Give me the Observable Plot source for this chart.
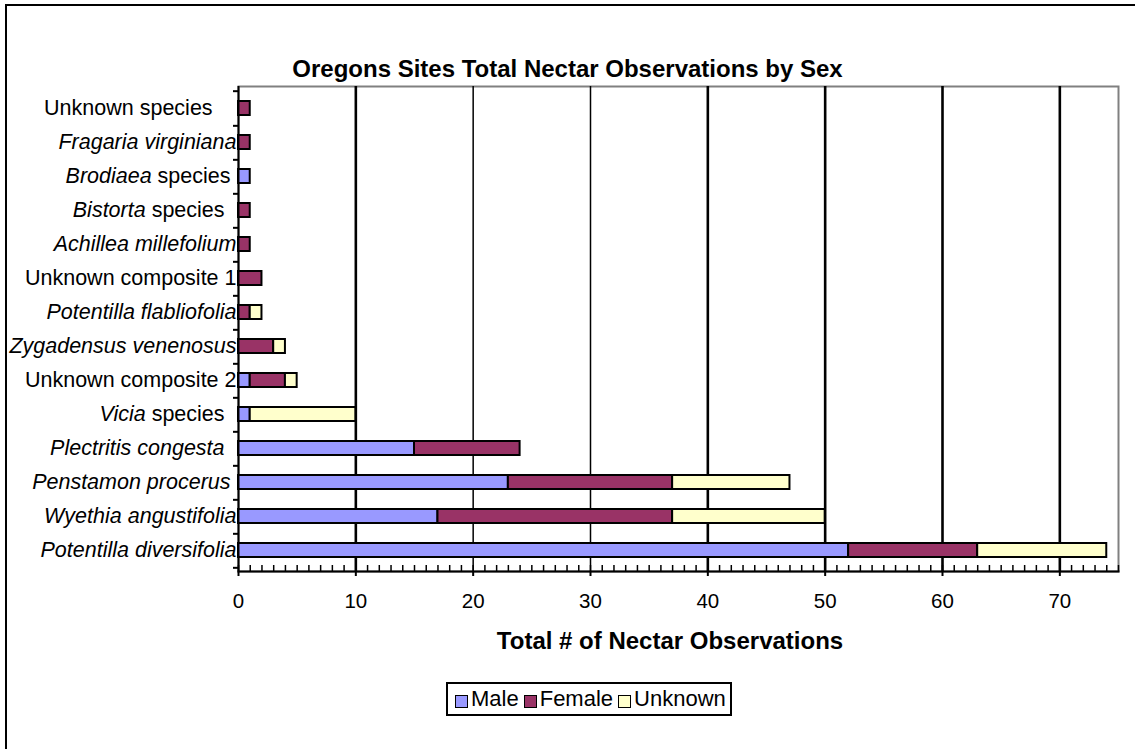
<!DOCTYPE html>
<html><head><meta charset="utf-8">
<script src="https://cdn.jsdelivr.net/npm/d3@7"></script>
<script src="https://cdn.jsdelivr.net/npm/@observablehq/plot@0.6"></script>
<style>
body{margin:0;background:#fff;font-family:"Liberation Sans",Arial,sans-serif;}
#wrap{position:relative;width:1135px;height:749px;overflow:hidden;background:#fff;}
#frame{position:absolute;left:5px;top:4px;width:1140px;height:770px;border:2px solid #000;}
#chart{position:absolute;left:0;top:0;}
#title{position:absolute;left:0;width:1135px;top:55px;text-align:center;font-weight:bold;font-size:24px;line-height:28px;color:#000;}
#xtitle{position:absolute;left:420px;width:500px;top:627px;text-align:center;font-weight:bold;font-size:24px;line-height:28px;color:#000;}
#legend{position:absolute;left:446px;top:682px;height:30px;padding:0 4px 0 2px;border:2px solid #000;display:flex;align-items:center;font-size:22px;background:#fff;}
#legend .it{display:flex;align-items:center;}
#legend .sw{width:11px;height:11px;border:1.5px solid #000;margin-right:3px;margin-left:5px;margin-top:4px;}
.ylab text{white-space:pre;}
</style></head>
<body>
<div id="wrap">
  <div id="frame"></div>
  <div id="chart"></div>
  <div id="title"></div>
  <div id="xtitle"></div>
  <div id="legend"></div>
</div>
<script>
const titleText = "Oregons Sites Total Nectar Observations by Sex";
const xTitleText = "Total # of Nectar Observations";
const species = ["Unknown species","Fragaria virginiana","Brodiaea species","Bistorta species","Achillea millefolium","Unknown composite 1","Potentilla flabliofolia","Zygadensus venenosus","Unknown composite 2","Vicia species","Plectritis congesta","Penstamon procerus","Wyethia angustifolia","Potentilla diversifolia"];
const italicPart = ["","Fragaria virginiana","Brodiaea","Bistorta","Achillea millefolium","","Potentilla flabliofolia","Zygadensus venenosus","","Vicia","Plectritis congesta","Penstamon procerus","Wyethia angustifolia","Potentilla diversifolia"];
const trailing = ["    ",""," ","  ","","","","","","  ","  "," ","",""];
const male    = [0,0,1,0,0,0,0,0,1,1,15,23,17,52];
const female  = [1,1,0,1,1,2,1,3,3,0, 9,14,20,11];
const unknown = [0,0,0,0,0,0,1,1,1,9, 0,10,13,11];
const sexes = ["Male","Female","Unknown"];
const colors = ["#9999ff","#993366","#ffffcc"];
const xTicks = [0,10,20,30,40,50,60,70];
const xMax = 75;

document.getElementById("title").textContent = titleText;
document.getElementById("xtitle").textContent = xTitleText;

const series = [male, female, unknown];
const rows = [];
species.forEach((s, i) => sexes.forEach((sex, j) => {
  if (series[j][i] > 0) rows.push({species: s, sex, value: series[j][i]});
}));

const mT = 86, plotBottom = 571, H = 625;
const step = (plotBottom - mT) / species.length;
const minor = d3.range(0, xMax + 1);
const heavy = new Set([10,40,50,60,70]);

const plot = Plot.plot({
  width: 1135, height: H,
  marginLeft: 238, marginRight: 17, marginTop: mT, marginBottom: H - plotBottom,
  style: {fontFamily: '"Liberation Sans", Arial, sans-serif', fontSize: "20px", color: "#000", background: "transparent"},
  x: {domain: [0, xMax], axis: null},
  y: {domain: species, paddingInner: 0.6, paddingOuter: 0.3, axis: null},
  color: {domain: sexes, range: colors},
  marks: [
    Plot.frame({stroke: "#808080", strokeWidth: 2}),
    Plot.ruleX(xTicks.filter(d => d > 0), {stroke: "#000", strokeWidth: d => heavy.has(d) ? 2.6 : 1.5}),
    Plot.barX(rows, Plot.stackX({x: "value", y: "species", fill: "sex", stroke: "#000", strokeWidth: 2, order: sexes})),
    Plot.ruleX([0], {stroke: "#000", strokeWidth: 2}),
    Plot.frame({anchor: "bottom", stroke: "#000", strokeWidth: 2}),
    Plot.axisX(minor, {tickSize: 6, dy: -6, tickFormat: () => "", strokeWidth: 1.5, label: null}),
    Plot.axisX(xTicks, {tickSize: 5, tickFormat: () => "", strokeWidth: 2, label: null}),
    Plot.axisX(xTicks, {tickSize: 0, tickPadding: 22, fontSize: 20.5, tickFormat: d => String(d), label: null}),
    Plot.axisY(species, {tickSize: 5, dy: step / 2, tickFormat: () => "", strokeWidth: 2, label: null}),
    Plot.axisY([species[0]], {tickSize: 5, dy: -step / 2, tickFormat: () => "", strokeWidth: 2, label: null}),
    Plot.text(species, {y: d => d, frameAnchor: "left", textAnchor: "end", dx: -2, fontSize: 21.5, fill: "#000", className: "ylab"})
  ]
});
document.getElementById("chart").appendChild(plot);

// mixed italic / regular labels (trailing spaces as in the source cells)
d3.select(plot).selectAll(".ylab text").each(function() {
  const s = this.textContent;
  const i = species.indexOf(s);
  if (i < 0) return;
  const it = italicPart[i];
  const rest = s.slice(it.length) + trailing[i];
  const t = d3.select(this);
  t.text(null);
  if (it) t.append("tspan").attr("font-style", "italic").text(it);
  if (rest) t.append("tspan").text(rest);
});

const leg = d3.select("#legend");
sexes.forEach((s, i) => {
  const it = leg.append("div").attr("class", "it");
  it.append("div").attr("class", "sw").style("background", colors[i]);
  it.append("span").text(s);
});
</script>
</body></html>
